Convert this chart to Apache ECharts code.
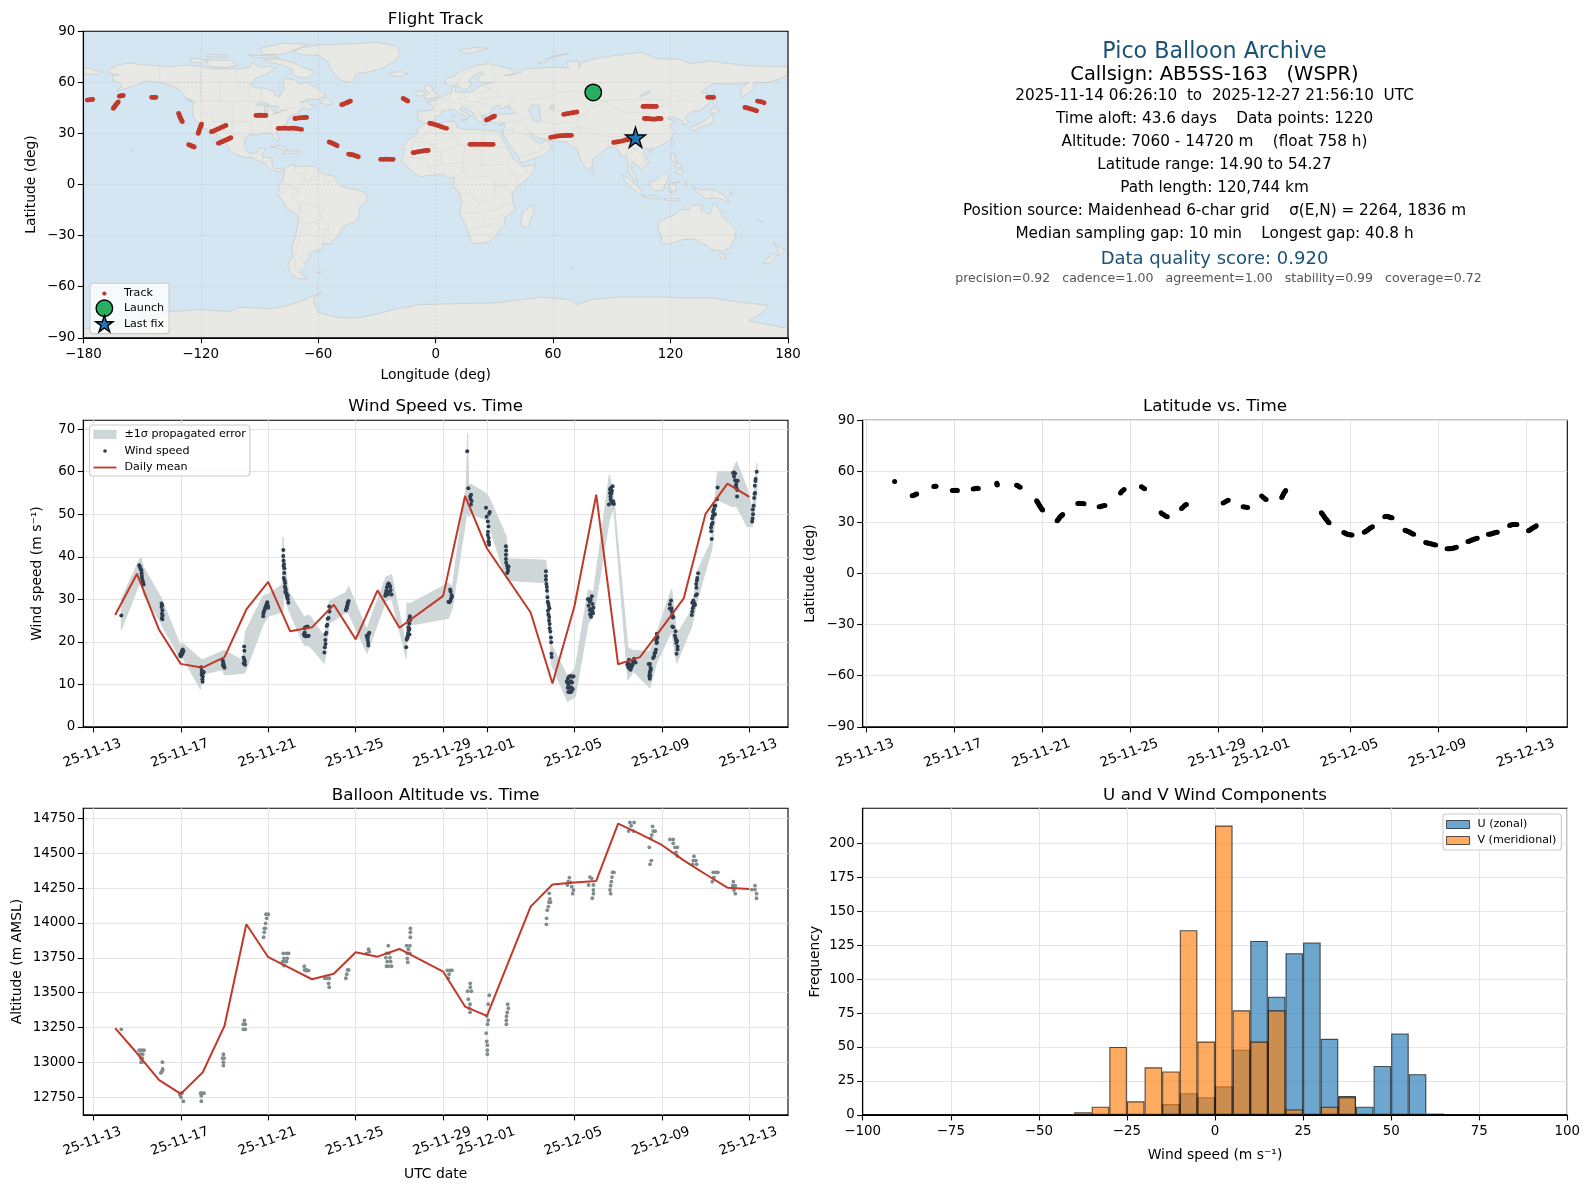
<!DOCTYPE html>
<html><head><meta charset="utf-8">
<style>html,body{margin:0;padding:0;background:#fff}#c{width:1590px;height:1189px}</style>
<script src="https://cdn.jsdelivr.net/npm/echarts@6/dist/echarts.min.js"></script>
</head><body><div id="c"></div>
<script>
// ---------- tick labels ----------
const dayTicks = [0,4,8,12,16,18,22,26,30];
const dayLabels = ['25-11-13','25-11-17','25-11-21','25-11-25','25-11-29','25-12-01','25-12-05','25-12-09','25-12-13'];
const lonTicks = [-180,-120,-60,0,60,120,180];
const latTicks = [-90,-60,-30,0,30,60,90];
const windTicks = [0,10,20,30,40,50,60,70];
const altTicks = [12750,13000,13250,13500,13750,14000,14250,14500,14750];
const freqTicks = [0,25,50,75,100,125,150,175,200];
const histTicks = [-100,-75,-50,-25,0,25,50,75,100];

// ---------- flight track (lon, lat) ----------
const track = [
[-178,49.6],[-177.2,49.7],[-176.4,49.9],[-175.6,50],[-175.2,50],
[-164.7,44.7],[-164.4,45.2],[-164.1,45.6],[-163.8,46.1],[-163.5,46.6],[-163.2,47.1],[-162.8,47.6],[-162.4,48.1],[-162.1,48.6],
[-161.6,51.9],[-161.1,52],[-160.6,52.1],[-160.1,52.2],[-159.6,52.3],[-145.1,51.2],[-144.5,51.2],[-144,51.2],[-143.4,51.2],[-142.9,51.2],
[-131.3,41.8],[-131.1,41.2],[-130.9,40.6],[-130.7,40],[-130.5,39.4],[-130.2,38.7],[-130,38.1],[-129.7,37.5],[-129.4,36.9],
[-126.2,23.4],[-125.7,23.2],[-125.2,23],[-124.7,22.7],[-124.2,22.5],[-123.7,22.2],[-123.3,22],
[-121.3,30],[-121.1,30.7],[-120.9,31.4],[-120.7,32.1],[-120.5,32.8],[-120.2,33.5],[-120,34.2],[-119.8,34.9],[-119.6,35.5],
[-114.5,31],[-113.7,31.3],[-113,31.7],[-112.2,32.1],[-111.5,32.5],[-110.7,32.9],[-110,33.3],[-109.2,33.7],[-108.5,34],[-107.8,34.4],[-107.1,34.7],
[-111,24.2],[-110.3,24.5],[-109.7,24.9],[-109,25.2],[-108.4,25.5],[-107.7,25.9],[-107,26.2],[-106.3,26.6],[-105.7,26.9],[-105.1,27.2],[-104.6,27.5],
[-91.8,40.6],[-91.1,40.6],[-90.5,40.6],[-89.9,40.7],[-89.3,40.7],[-88.6,40.6],[-88,40.6],[-87.3,40.6],[-86.7,40.6],
[-80.4,33],[-79.6,33],[-78.8,33],[-78,33.1],[-77.2,33.1],[-76.4,33],[-75.6,33],[-74.8,33],[-74,33],[-73.2,33.1],[-72.4,33.1],[-71.5,32.9],[-70.6,32.8],[-69.6,32.6],[-68.5,32.4],
[-71.9,38.8],[-71.2,38.9],[-70.5,39],[-69.7,39.1],[-69,39.2],[-68.2,39.3],[-67.4,39.3],[-66.6,39.4],[-65.9,39.4],
[-48,46.9],[-47.4,47.1],[-46.8,47.4],[-46.2,47.7],[-45.6,48],[-45,48.2],[-44.5,48.5],[-44,48.8],[-43.5,49],
[-54.4,25],[-53.9,24.8],[-53.3,24.5],[-52.8,24.3],[-52.3,24],[-51.8,23.7],[-51.3,23.4],[-50.8,23.1],[-50.3,22.8],
[-44.5,17.9],[-43.8,17.7],[-43.2,17.6],[-42.5,17.5],[-41.9,17.3],[-41.3,17],[-40.7,16.8],[-40.1,16.6],[-39.5,16.3],
[-28.1,14.8],[-27.3,14.8],[-26.5,14.8],[-25.7,14.9],[-25,14.9],[-24.2,14.8],[-23.3,14.8],[-22.5,14.8],[-21.7,14.8],
[-11.5,18.7],[-10.8,18.8],[-10,19],[-9.2,19.2],[-8.5,19.3],[-7.7,19.5],[-7,19.6],[-6.2,19.8],[-5.4,19.9],[-4.6,20],[-3.8,20],
[-16.6,50.6],[-16,50.2],[-15.4,49.8],[-14.8,49.4],[-14.2,49],
[-3,36],[-2.2,35.8],[-1.4,35.6],[-0.6,35.3],[0.2,35],[1,34.7],[1.8,34.4],[2.6,34],[3.4,33.7],[4.5,33.3],[5.6,33],
[17.5,23.6],[18.3,23.6],[19,23.6],[19.8,23.7],[20.5,23.6],[21.3,23.6],[22,23.6],[22.8,23.6],[23.5,23.7],[24.3,23.6],[25,23.6],[25.8,23.6],[26.5,23.6],[27.3,23.6],[28,23.6],[28.7,23.6],[29.4,23.6],
[25.9,37.9],[26.5,38.1],[27,38.4],[27.6,38.8],[28.1,39.1],[28.7,39.4],[29.2,39.7],[29.7,40],[30.1,40.2],
[58.7,27.7],[59.4,27.9],[60.2,28],[61,28.2],[61.8,28.4],[62.6,28.5],[63.4,28.6],[64.2,28.7],[65,28.7],[65.8,28.7],[66.5,28.8],[67.3,28.8],[68,28.8],[68.7,28.9],[69.4,28.9],
[65.4,41.2],[66.1,41.4],[66.8,41.5],[67.5,41.7],[68.2,41.8],[68.9,42],[69.6,42.1],[70.3,42.3],[71,42.4],[71.6,42.5],[72.2,42.6],
[90.9,24.7],[91.7,24.9],[92.5,25],[93.2,25.1],[94,25.3],[95,25.5],[96,25.8],[96.8,26.1],[97.5,26.3],[98.3,26.4],[99,26.5],
[105.9,45.9],[106.6,45.9],[107.3,45.9],[108,46],[108.7,46],[109.4,45.9],[110,45.9],[110.7,45.9],[111.4,45.9],[112.1,45.9],[112.8,45.9],
[106.6,38.8],[107.3,38.8],[108,38.8],[108.8,38.7],[109.5,38.6],[110.3,38.5],[111,38.4],[111.8,38.4],[112.5,38.5],[113.2,38.7],[113.9,38.8],[114.6,38.8],[115.2,38.7],
[139,51.2],[139.8,51.2],[140.5,51.2],[141.3,51.2],[142,51.2],
[158,45.3],[158.8,45.1],[159.5,44.9],[160.2,44.6],[161,44.4],[161.8,44.1],[162.5,43.8],[163.3,43.5],[164,43.3],
[164.4,49],[165.2,48.9],[166,48.7],[166.9,48.4],[167.8,48]];
const launchFix = [[80.5,54.1]];
const lastFix = [[102.1,27.7]];

// ---------- base map outlines (lon, lat) ----------
const land = [
[[-168,65.5],[-166,68.3],[-162,70.3],[-156.5,71.3],[-150,70.5],[-141,69.7],[-135,69.3],[-128,70.2],[-120,69.5],[-115,68],[-108,68],[-100,68],[-95,69],[-94,72],[-90,69],[-85,69.5],[-81.5,68.5],[-85,66],[-87,64.5],[-92,62.5],[-94.5,59],[-92.5,57],[-88,56.5],[-82.5,55],[-82,52.5],[-79.5,51.5],[-79,54.5],[-77,56],[-78,59],[-77.5,62.5],[-72,61.5],[-69.5,59],[-65.5,60],[-62,57.5],[-59,55],[-56,52.5],[-60,50],[-66,50],[-69,48],[-65,49],[-64.5,47],[-61,46],[-65,44],[-67,45],[-70,43.5],[-70,41.7],[-74,40.7],[-75.5,38],[-76,35.5],[-78,34],[-81,32],[-81.3,30],[-80,27],[-80.3,25.2],[-81.8,26],[-82.7,28],[-84,30],[-86,30.4],[-89,30.3],[-90,29.2],[-94,29.5],[-97,28],[-97.5,25],[-97.8,22.3],[-96,19],[-94.5,18.2],[-91.5,18.5],[-90.5,21],[-87,21.5],[-88,18.5],[-88.5,16],[-86,15.9],[-83.5,15.2],[-83.7,11],[-82,9],[-79.5,9.5],[-77.3,8.7],[-78,7.5],[-80.5,7.5],[-83,8.3],[-85.5,10],[-87.5,13],[-91,14],[-94,16],[-97,15.8],[-101,17.2],[-105,19.5],[-105.5,22],[-108,25],[-110,27.5],[-112.5,30],[-113,31.5],[-114.7,31.5],[-113,28.5],[-110.5,24.5],[-109.5,23],[-112,25],[-114.5,28],[-116,30.5],[-117.2,32.6],[-120.5,34.5],[-122.5,37.5],[-124.2,40.5],[-124,46],[-123,48.5],[-127.5,51],[-130,54.5],[-133,57],[-137,58.5],[-140,59.8],[-146,60.8],[-150,60],[-152,58.8],[-158,56.5],[-163,54.8],[-160,58],[-162,60],[-165,61.5],[-165,64],[-161,64.5]],
[[-73,78.2],[-68,80.5],[-60,82],[-45,82.5],[-30,83.5],[-20,81.5],[-18,77],[-21,72.5],[-27,68.5],[-33,66.5],[-40,65],[-43,60],[-48,61],[-52,65],[-54,69],[-55,72],[-60,76],[-68,76]],
[[-80,73.5],[-72,71.5],[-68,69],[-62,66.5],[-65,62.5],[-70,63],[-74,65],[-73,67.5],[-78,70],[-85,72],[-88,73.5]],
[[-117,73],[-105,73],[-101,70],[-108,68.7],[-116,69.5]],
[[-90,80],[-78,83],[-65,82.5],[-72,79],[-78,76.5],[-88,76.5]],
[[-125,74],[-116,73.5],[-120,71.5],[-125,72]],
[[-96,76],[-82,75.5],[-80,74.5],[-92,74.5]],
[[-117,76.3],[-106,76],[-106,74.8],[-117,75]],
[[-59,47.8],[-56,51.5],[-53,48],[-53,46.7]],
[[-128,50.7],[-123.5,48.5],[-125,48.6]],
[[-85,22],[-80,23],[-75,20.5],[-77.5,20],[-82,22]],
[[-74.5,19.8],[-69,19.5],[-68.5,18.5],[-74,18]],
[[-78.3,18.4],[-76.3,18.1],[-77.5,17.8]],
[[-156,20.2],[-155,19.7],[-155.8,19]],
[[-77.3,8.7],[-75.5,10.7],[-72,12],[-71.5,10.5],[-68,11],[-62,10.7],[-60,8.5],[-57,6],[-52,5],[-50,1],[-48,-1],[-44,-2.5],[-40,-3],[-35.5,-5.5],[-35,-9],[-39,-13.5],[-39,-18],[-41,-22],[-45,-23.5],[-48.5,-26],[-48.7,-28.5],[-52,-32.5],[-54,-34.8],[-58,-34.5],[-57,-38],[-62,-39],[-65,-41],[-64,-42.8],[-67.5,-46],[-66,-48],[-69,-51],[-68.5,-52.5],[-65.5,-55],[-70,-55.5],[-74,-52.5],[-75.5,-47],[-73,-42],[-73.5,-37],[-71.5,-30],[-70,-20],[-71,-17.8],[-76,-14],[-79,-8],[-81.3,-5],[-80,-2.5],[-80,0.5],[-78,2.5],[-77.5,7]],
[[-61,-51.4],[-58,-51.3],[-59,-52.2]],
[[-6,35.8],[-2,35],[5,36.8],[10,37.2],[11,33.5],[15,32.3],[20,32.5],[25,31.7],[32,31.2],[34.3,31.3],[33,28.5],[35.5,24],[37.3,20.5],[39.5,15],[43.2,12],[44.5,10.5],[51,12],[50.5,9],[47.5,4],[41.5,-1.7],[39,-6],[39.5,-10],[40.7,-15],[35,-19.8],[35.5,-24],[32.8,-26],[31,-30],[27,-33.8],[20,-34.8],[18.3,-33.8],[17,-29],[14.7,-22.5],[12,-17],[13.7,-10],[12,-5],[9,-0.7],[9.7,3.5],[6,4.3],[4,6.3],[-1,5.5],[-4.5,5.2],[-7.5,4.5],[-11,6.8],[-13.5,9.5],[-16.8,12.5],[-17.5,14.7],[-16,19],[-17,21],[-14.8,25.5],[-12,28],[-9.7,30],[-9,33]],
[[49.3,-12],[50.3,-15.5],[47.5,-24.5],[45,-25.5],[43.5,-22],[44.5,-16]],
[[-9,37],[-9.3,43],[-2,43.5],[-1,46],[-4.7,48.5],[-1.5,49],[2,51],[4.5,52.5],[8,54],[8.5,57],[10.5,57.5],[10,54.5],[14,54],[19,54.5],[21,56.5],[24,58.5],[29.5,60],[23,60],[21.5,61],[22,63],[25,65.3],[22,65.5],[18,62.5],[17,60.5],[18.5,59.5],[16.5,56.5],[14,55.5],[12.5,56.5],[11,59],[8,58],[5,59],[5,62],[10,64],[14,67.5],[20,70],[27,71],[33,69.5],[41,67],[40,65],[35,64],[37,64],[44,66],[45,68],[54,68.5],[60,69],[68,68.5],[67,72],[73,73],[73,68],[75,72],[82,74],[90,75.5],[100,77],[105,77.7],[113,74],[125,73.5],[130,71],[140,72.5],[150,71],[160,69.7],[170,69.5],[180,69],[180,65],[177,62.5],[170,60],[163,59.8],[162,56],[156.5,51],[155.8,56],[160,60],[155,59],[142,59.3],[135.5,54.5],[141,52.5],[140,48],[135,43.5],[130.5,42.5],[127.5,39.7],[129.3,36.5],[126.5,34.5],[126,37.5],[122,39.5],[118,39],[122.5,37],[119.5,35],[122,31],[120,26],[114.5,22.5],[109.5,20.5],[108,21.5],[106,19],[109,13],[105,8.8],[103,11.5],[100.5,13.5],[99.5,10],[103.5,1.5],[101,3],[98.5,8],[98,13],[97,17],[94.5,16],[94,19],[91,22.5],[87,21],[82,16.5],[80,15],[80,11],[77.5,8],[75,12],[73,18],[72.5,21],[69,22.5],[67,25],[61.5,25.2],[57,26],[55.5,26.8],[52,27.5],[49,30],[48,29.5],[50,26],[51.5,25],[54,24],[56.3,26],[58.5,23.5],[59.5,22],[55,17],[52,16],[45,13],[43.2,13],[42.5,16.5],[39,21],[36,26.5],[34.8,28.5],[34.3,31.3],[35.5,34],[35.5,36.5],[32,36],[28,36.7],[26.5,39],[26,40.5],[23.5,40.5],[24,38],[23,36.5],[21.5,37.5],[19.5,40.5],[19,42.5],[14.5,45],[12.5,45],[12.5,44],[16,41.8],[18.3,40],[16.5,39.8],[16,38],[15.5,40],[12,42],[10,44],[7,43.7],[3.3,43.2],[3,41.5],[0,39.5],[-0.5,38],[-2,36.8],[-5.5,36],[-7,37.2]],
[[-180,69],[-175,67.5],[-170,66],[-173,64.5],[-180,65]],
[[-5.5,50],[1.3,51.2],[1.7,52.7],[-1.5,55],[-2,57.5],[-5,58.6],[-6,56],[-3,54],[-5,52]],
[[-10,52],[-6,52.2],[-5.7,54.7],[-8.5,55.2],[-10,54]],
[[-24,65.5],[-18,66.5],[-14,65],[-18.5,63.4],[-22.5,64]],
[[12,79],[20,80.5],[27,80],[18,77],[14,77.5]],
[[52,71],[57,74],[68,77],[60,75.5],[55,71]],
[[12.5,38],[15.5,38.2],[15,36.7]],[[8.2,41],[9.7,41],[9.5,39],[8.4,39]],[[23.5,35.5],[26.2,35.2],[24,35]],[[32.3,35],[34.5,35.6],[33.5,34.6]],
[[80,9.7],[82,7.5],[80.7,6],[79.8,7.5]],
[[130.8,34],[135,35.7],[137,37],[140,40],[141.5,41.3],[142,39],[140.8,35.5],[137,34.6],[135,33.5],[131,31.2],[130,33]],
[[140,42],[141.7,45.5],[145.3,43.7],[143,42],[140.5,41.6]],
[[142,54],[143.5,49.5],[143,46],[141.8,47.5]],
[[121,25],[122,25],[120.8,22],[120,23]],[[108.7,19.5],[110.8,20],[110,18.4]],
[[120.5,18.5],[122.2,18.3],[122,15],[124,13],[121,13.7],[120,16]],[[122,7],[125.5,9.7],[126.4,7],[125,5.8]],[[122,11.7],[125,12.5],[125.5,10.3],[123,9.5]],
[[109,1.5],[113,3],[117,7],[119,5],[117.8,1],[116,-3.8],[111,-3.2],[109,0]],
[[95.2,5.6],[98,4.2],[104,-2],[106,-5.8],[104,-5.5],[100,-2],[97,2]],
[[105.5,-6.5],[110,-6.5],[114.5,-7.7],[114.5,-8.7],[108,-7.8]],
[[119.5,0.8],[125,1.5],[121,0.5],[123,-1],[122.5,-4.7],[120.5,-3],[120.4,-5.5],[119.5,-3.5]],
[[116,-8.3],[120,-8.3],[125,-8.3],[125,-9.5],[119,-9.6]],[[127.5,1.8],[128.5,1],[128,-0.8]],
[[131,-0.8],[135,-3.3],[141,-2.6],[147,-6],[150.5,-10.5],[144,-7.8],[138,-8.2],[133,-4]],
[[150,-5.5],[152,-4.2],[151,-6]],
[[114,-22],[116,-20.5],[122,-18],[125,-14.5],[129.5,-15],[131,-12],[136.5,-12],[135.5,-15],[140,-17.5],[142,-11],[145.5,-15],[146.5,-19],[150.8,-23],[153.5,-27],[153,-31],[150,-37.5],[146,-39],[141,-38.3],[138,-35.5],[136,-34.8],[133,-32],[126,-32.3],[123,-33.8],[118,-35],[115,-34.3],[115.5,-31],[113.5,-26]],
[[144.7,-40.8],[148.2,-40.9],[147.8,-43.2],[146,-43.5]],
[[172.8,-34.5],[175.5,-37],[178.4,-37.8],[176,-41.3],[174.8,-41.5],[174.7,-38]],
[[172.7,-40.6],[174.2,-41.7],[170.7,-46],[167,-46.3],[168.5,-44]],
[[165,-21],[167,-22.3],[164.5,-20.3]],[[68.7,-49],[70.5,-49.3],[69.5,-49.8]],
[[-180,-90],[-180,-84.5],[-145,-84.5],[-147,-78],[-135,-74.5],[-120,-73.5],[-105,-74.5],[-100,-72],[-85,-73],[-75,-71],[-68,-68],[-58,-63.3],[-62,-66],[-62,-70],[-60,-75],[-50,-78],[-40,-78.5],[-30,-76],[-20,-73],[-8,-70.5],[10,-70],[30,-69.5],[45,-67.5],[55,-66],[70,-68],[72,-70.5],[80,-67.5],[95,-66],[110,-66],[125,-66.5],[140,-66.5],[155,-69],[170,-71],[166,-76],[160,-80],[180,-84.5],[180,-90]]];
const inlandWater = [
[[28,41.2],[31,41.2],[36,41.5],[41.5,41.8],[40,43.5],[37.5,45],[38,46.5],[35,45.5],[35,44.7],[33,44.5],[33,46],[31,46.5],[28.5,44]],
[[49,46.5],[53,46.5],[53,42],[54,37],[50,37.3],[49,40.5],[47.5,43]],
[[58.5,46.5],[61,46.5],[60,44],[58.5,44]],
[[-92,46.7],[-88,48.5],[-84.7,47],[-85,46.5]],
[[-87.5,45.8],[-85.5,45.8],[-86.2,42],[-87.5,41.8]],
[[-84.5,46],[-80,45.8],[-81.7,43.3],[-83.5,43.5]],
[[-83.3,41.8],[-79,42.8],[-79,42.5],[-82,41.5]],[[-79.5,43.4],[-76.3,44],[-76.3,43.4]],
[[104,52],[110,55.7],[109.5,54],[105,51.5]]];
const borders = [
[[-123,49],[-95,49],[-89,48],[-83,46],[-82.5,42.5],[-76,44],[-75,45],[-71,45],[-69,47.3],[-67,45]],
[[-141,69.7],[-141,60.2],[-135,59],[-130,55]],
[[-117,32.5],[-114.7,32.5],[-111,31.3],[-106.5,31.8],[-103,29],[-101,29.8],[-97.5,26]],
[[-92,14.5],[-91,17.5],[-89,18]],[[-89,14],[-87,13]],[[-83.5,15],[-87,13]],
[[-72,12],[-72.5,7],[-67,6],[-67,2],[-70,-1],[-70,-4],[-74,-7],[-70,-11],[-69,-16]],
[[-79,1.5],[-75,0],[-70,-4]],[[-80,-3.5],[-78,-5],[-75,-1]],
[[-60,8.5],[-60,5],[-64,4],[-64,2],[-67,2]],[[-57,6],[-57,2],[-52,2]],
[[-70,-18],[-69,-11],[-60,-13],[-58,-20],[-62,-22],[-67,-23],[-70,-18]],
[[-58,-20],[-55,-24],[-54,-26],[-58,-27],[-62,-22]],[[-58,-34],[-57,-30],[-54,-26]],
[[-70,-20],[-68,-24],[-70,-33],[-72,-43],[-72,-50],[-69,-52]],[[-53,-33],[-57,-30]],
[[-9,42],[-7,42],[-7,37.2]],[[-2,43.5],[3,42.5]],[[2,51],[6,49.5],[8,48],[7,43.7]],[[8,54],[7,51],[6,49.5]],
[[14,54],[15,51],[12,50],[13,47.5],[8,47.5]],[[19,54.5],[24,54],[24,50],[22,48.5],[15,49],[15,51]],[[13,46.5],[19,46],[22,48.5]],[[24,58.5],[28,56],[24,54]],
[[22,48.5],[28,45.5],[29.5,45]],[[19,42.5],[23,41],[26,41.5]],[[26,41.5],[28,42]],[[20,46],[22,44],[23,41]],
[[29.5,60],[31,63],[29,66],[29,69.5]],[[11.5,59],[12,61],[14,65],[20,69]],[[24,66],[21,69]],
[[24,50],[32,52],[40,50],[38,47.5]],[[28,56],[32,52]],
[[47,50],[58,51],[62,54],[71,55],[77,53],[80,50.5],[87,49],[98,50],[107,50],[117,50],[120,53],[127,50],[135,48],[131,43]],
[[87,49],[80,45],[74,40],[70,41],[66,42],[59,45],[54,42]],[[74,40],[71,36],[74,34],[79,32],[81,30],[88,28],[97,28],[98,24],[101,21],[106,23],[108,21.5]],
[[87,49],[91,45],[97,42.5],[105,42],[112,45],[119,47],[117,50]],
[[53,37],[61,36],[66,37],[71,36]],[[61,36],[61,31],[62,25.2]],[[44,39.5],[48,38.5],[49,38]],[[61,31],[66,29.5],[70,33],[74,34]],[[70,24],[71,28],[74,31],[74,34]],
[[36,36.7],[42,37],[44,37.5],[44,39.5],[41.5,41.5]],[[44,37.5],[46,34],[48,30]],[[39,32],[42,37]],[[36,32],[39,32],[46,29],[48,29.5]],[[52,19],[55,22],[52,24]],[[43,16.5],[52,19]],
[[88,26],[89,22]],[[92,21],[93,24],[97,28]],[[98,24],[98,18],[99,13]],[[101,21],[105,18],[107,15],[105,11]],
[[-9,27.5],[-13,27.7],[-17,21]],[[-9,27.5],[-2,32],[-2,35]],[[9,30],[8,33],[8.5,37]],[[-9,27.5],[-5,25],[3,19],[12,23.5],[9,30]],
[[12,23.5],[15,23],[24,19.5],[24,22],[25,31.7]],[[25,22],[37,22]],[[-5,25],[-12,25],[-12,21],[-17,21]],[[-16,16],[-5,15.5],[-4,10],[3,12],[3,19]],
[[3,12],[14,13],[15,23]],[[14,13],[14,7],[9,4.5]],[[24,19.5],[23,11],[27,5],[30,3.5]],[[23,11],[36,12],[37,15]],[[36,12],[41.5,4],[47,8],[44,11]],[[41.5,4],[41,-1.5]],
[[14,7],[18,3.5],[27,5]],[[12,-5],[18,-5],[22,-11],[30,-8],[30,3.5]],[[30,-1],[34,-1],[39,-5]],[[12,-17],[24,-17],[30,-15],[35,-12],[39,-10.5]],[[17,-29],[20,-25],[25,-25],[31,-22.5],[33,-26]],[[25,-18],[25,-25]],[[30,-15],[33,-13],[35,-19]],
[[141,-2.6],[141,-9]],[[116,4],[113,1.5],[110,1]],
[[-95,49],[-95,60],[-102,60],[-102,68]],[[-120,49],[-120,68]],[[-110,49],[-110,60]],[[-141,60.2],[-120,60]],[[-80,52],[-80,62]],[[-89,48],[-89,56.5]],
[[-120,42],[-114,42],[-114,37],[-109,37],[-94,37]],[[-104,49],[-104,31]],[[-94,37],[-94,30]],[[-110,37],[-110,31.5]],[[-85,35],[-85,30.5]]];

// ---------- wind speed vs. time (day offset from 25-11-13, m/s) ----------
const windPoints = [
[1.28,26.2],[2.10,38.0],[2.13,37.6],[2.16,37.2],[2.2,36.8],[2.21,36.1],[2.22,35.5],[2.23,34.9],[2.26,34.3],[2.28,33.9],[2.30,33.5],
[3.12,29.0],[3.15,28.6],[3.12,28.2],[3.16,27.4],[3.14,26.6],[3.17,26.2],[3.13,25.6],[3.16,25.3],
[3.97,17.0],[4.0,16.6],[4.03,17.4],[4.06,17.9],[4.09,18.2],[4.12,17.8],[4.02,16.8],[4.08,17.2],
[4.93,14.0],[4.96,13.2],[4.98,12.8],[5.02,12.6],[5.05,12.9],[4.97,12.1],[5.01,11.8],[4.99,11.2],[5.0,10.6],[4.95,12.4],
[5.92,15.6],[5.94,15.1],[5.96,14.7],[5.98,14.2],[6.0,13.9],[5.93,14.4],
[6.9,18.9],[6.91,17.9],[6.87,16.3],[6.9,15.9],[6.93,15.4],[6.88,14.9],[6.94,14.6],[6.91,15.1],
[7.77,26.0],[7.78,26.7],[7.8,27.1],[7.84,27.6],[7.87,28.1],[7.9,28.5],[7.93,28.9],[7.96,29.3],[7.98,28.6],[8.0,28.0],
[8.69,41.6],[8.69,40.2],[8.7,39.1],[8.72,38.3],[8.7,37.8],[8.74,37.3],[8.73,36.2],[8.71,35.0],[8.75,34.4],[8.77,33.8],[8.76,33.0],[8.79,32.6],[8.8,32.1],[8.78,31.7],[8.83,31.4],[8.85,30.8],[8.87,30.4],[8.89,30.9],[8.9,30.0],[8.92,29.2],
[9.63,21.8],[9.66,21.4],[9.7,21.3],[9.76,21.4],[9.8,21.3],[9.85,21.4],[9.66,23.2],[9.7,23.4],[9.75,23.4],[9.8,23.6],[9.67,22.2],
[10.57,17.5],[10.59,18.7],[10.62,19.5],[10.61,20.4],[10.62,21.8],[10.66,22.1],[10.67,23.7],[10.7,24.0],[10.72,25.4],[10.76,25.6],[10.8,27.1],[10.79,28.3],
[11.55,27.4],[11.58,27.8],[11.6,28.2],[11.62,28.6],[11.65,29.1],[11.68,29.6],[11.59,27.9],[11.63,29.2],
[12.5,21.4],[12.53,20.9],[12.55,20.4],[12.57,19.8],[12.58,19.1],[12.6,21.9],[12.62,22.1],[12.56,21.2],
[13.35,30.8],[13.38,31.4],[13.4,32],[13.43,32.8],[13.47,33.4],[13.5,33.7],[13.54,33.5],[13.58,33.0],[13.6,32.2],[13.64,31.1],[13.55,31.8],[13.47,31.1],
[14.31,18.7],[14.33,20.5],[14.36,21.0],[14.38,21.4],[14.4,22.0],[14.43,22.7],[14.42,23.4],[14.45,24.3],[14.43,25.0],[14.47,25.5],[14.48,26.0],[14.5,25.2],[14.37,20.9],[14.46,23.0],[14.46,21.7],
[16.24,29.4],[16.28,29.3],[16.33,29.6],[16.36,30.2],[16.38,31.0],[16.41,30.6],[16.34,31.8],[16.32,32.3],
[17.1,64.8],[17.15,56.1],[17.23,54.2],[17.25,53.6],[17.28,54.6],[17.3,53.1],[17.27,52.3],
[17.96,51.5],[18.13,50.5],[18.1,50.1],[17.99,49.4],[18.04,48.3],[18.07,47.1],[18.05,45.9],[18.04,45.1],[18.08,44.4],[18.07,43.6],[18.1,42.8],[18.09,43.4],
[18.87,42.5],[18.88,41.5],[18.87,40.5],[18.87,39.5],[18.88,38.6],[18.92,37.9],[18.95,37.3],[18.97,36.7],[18.93,36.2],[18.99,37.7],
[20.7,36.6],[20.7,35.5],[20.7,34.6],[20.72,33.6],[20.74,32.9],[20.75,32.0],[20.77,30.5],[20.78,29.4],[20.81,29],[20.83,28.4],[20.86,27.8],[20.79,27.3],[20.81,26.4],[20.85,25.8],[20.84,25],[20.87,24.2],[20.87,23.2],[20.9,22.4],[20.93,21.0],[20.94,19.9],[20.95,17.2],[20.96,16.4],
[21.65,10.6],[21.7,11.3],[21.75,11.8],[21.8,11.9],[21.85,11.9],[21.92,11.8],[21.96,11.9],[21.72,10],[21.78,10.4],[21.84,10.7],[21.9,10.4],[21.7,9.2],[21.78,9.1],[21.85,9.3],[21.72,8.2],[21.8,8.1],[21.87,8.3],[21.93,8.9],
[22.62,30],[22.67,30],[22.7,29.4],[22.75,29.9],[22.8,30.7],[22.83,28.9],[22.65,28.5],[22.7,27.5],[22.76,27.7],[22.82,27.1],[22.85,26.7],[22.72,26.5],[22.76,25.9],[22.87,28.0],
[23.58,52.3],[23.66,53.5],[23.69,53],[23.75,52.6],[23.78,53],[23.81,52.4],[23.63,55],[23.69,54.9],[23.65,54.2],[23.72,55.5],[23.75,56.6],[23.67,56.2],[23.63,55.9],
[24.42,14.6],[24.47,14],[24.52,13.7],[24.57,13.4],[24.6,13.9],[24.65,14.4],[24.7,15],[24.75,15.3],[24.8,15.1],[24.73,16],[24.66,15.5],[24.55,14.6],[24.45,15],[24.5,15.8],
[25.4,14.8],[25.46,14.8],[25.48,13.9],[25.46,13],[25.44,12.5],[25.47,12],[25.45,11.3],[25.5,13.5],[25.43,11.9],
[25.6,16.2],[25.65,16.6],[25.67,17.3],[25.7,17.5],[25.73,18.1],[25.76,19.7],[25.74,20.4],[25.79,20.9],[25.78,19.9],[25.8,21.1],[25.77,21.9],
[26.37,28.8],[26.42,29.7],[26.36,27.8],[26.44,27.9],[26.47,26.3],[26.5,25.7],[26.45,27.2],[26.53,25.8],[26.48,23.6],[26.52,23.4],
[26.6,21.5],[26.63,20.9],[26.65,20.4],[26.66,19.7],[26.7,20.2],[26.72,18.9],[26.72,18.2],[26.67,17.2],[26.63,22.5],
[27.37,26.3],[27.39,27.1],[27.41,27.9],[27.45,28.4],[27.39,29.2],[27.44,29.7],[27.48,29.1],[27.52,28.7],[27.55,30.9],[27.6,31.2],[27.58,32.7],[27.57,33.6],[27.6,34.4],[27.62,35],[27.66,36.1],
[28.28,44.2],[28.26,46],[28.25,46.9],[28.28,47.6],[28.32,48],[28.3,49],[28.33,49.6],[28.38,49.9],[28.43,50],[28.34,50.6],[28.38,51.2],[28.45,52],[28.4,52],[28.52,53.5],[28.55,56.3],
[29.26,59.7],[29.3,59.8],[29.35,59.6],[29.3,58.9],[29.35,58],[29.4,57.8],[29.47,57.9],[29.4,57],[29.36,56.4],[29.42,56.2],[29.45,55.7],[29.44,54.2],
[30.13,48.3],[30.15,49],[30.17,50],[30.16,51.1],[30.2,52],[30.22,53.8],[30.24,54.8],[30.26,55],[30.25,56.7],[30.28,57.8],[30.29,58.3],[30.34,60]];
const meanDays = [1,2,3,4,5,6,7,8,9,10,11,12,13,14,16,17,18,20,21,22,23,24,25,26,27,28,29,30];
const windMean = [26.3,36.0,22.9,14.8,13.9,16.4,27.6,34.1,22.5,23.4,28.7,20.6,32.1,23.3,30.8,54.3,42.0,26.9,10.2,28.3,54.6,14.7,16.4,23.2,30.2,50.1,57.2,54.1];
// ±1 sigma band: day, upper, lower
const bandDays = [1.28,2.1,2.18,2.3,3.11,3.17,3.98,4.12,4.9,5.02,5.9,6,6.86,6.95,7.76,8,8.64,8.68,8.72,8.93,9.64,9.88,10.57,10.6,10.79,11.55,11.68,12.52,12.62,13.38,13.64,14.31,14.34,14.5,16.24,16.42,17.06,17.12,17.16,17.3,17.99,18.14,18.87,18.99,20.7,20.96,21.69,22.04,22.63,22.88,23.6,23.8,24.45,24.7,25.45,25.76,26.45,26.68,27.37,27.66,28.28,28.54,29.2,29.42,29.9,30.14,30.35];
const bandUpper = [30,39.2,39.8,37.5,30.3,29.5,19.2,19.6,16,15.8,17.8,18,15.5,22.3,30.8,31.2,33.5,44.6,40,31.8,25.9,26.3,21.2,21.6,29.6,31.6,33,22.8,24.6,35.2,35.8,19,29.2,29,33.8,33,57,69,57,57,54.8,53.5,45,39.5,39.2,19.3,11.8,13.8,32.2,31.8,59.3,54,18.5,18,17.7,22,32.4,21.8,27.5,37,44,60,60,62.4,56,51,62];
const bandLower = [22.8,33.6,35.5,31,24.3,23.5,16.1,16,8.8,12.4,13.4,12.2,12.6,12.8,24,26,27,27.5,31.5,27.5,19.2,19,14.9,16.4,24.3,26.8,26.6,17.3,18.8,29.6,30.2,16.1,23.9,23.9,25.5,28,49.5,50,49.4,50,48.7,46.7,34.9,34.4,33.9,14.5,5.9,7.1,24.3,26,48.7,51.5,11,13,9.1,15,22.5,15,23.6,30.5,41.6,53.4,51.8,51.8,47.1,47.1,54.9];

// ---------- latitude vs. time ----------
const latPoints = [
[1.30,54.1],[2.10,45.7],[2.15,45.9],[2.2,46.2],[2.25,46.5],[2.3,46.7],[3.08,51.1],[3.13,51.3],[3.18,51.2],
[3.92,48.8],[3.98,48.7],[4.04,48.8],[4.1,48.9],[4.15,48.8],[4.87,49.7],[4.93,49.8],[4.99,50],[5.05,50.1],[5.1,49.9],
[5.94,53],[5.95,52.5],[5.96,52],[6.84,51.8],[6.9,51.5],[6.95,51],[7,50.7],
[7.75,42.7],[7.78,42.2],[7.8,41.7],[7.83,41.1],[7.85,40.6],[7.88,40],[7.9,39.5],[7.93,38.9],[7.96,38.3],[7.99,37.8],[8.02,37.3],
[8.68,31],[8.71,31.5],[8.74,31.9],[8.77,32.5],[8.8,33],[8.83,33.5],[8.87,33.9],[8.9,34.3],[8.93,34.7],
[9.62,41.2],[9.68,41.3],[9.75,41.1],[9.82,41.1],[9.9,41],[10.59,39.2],[10.65,39.3],[10.72,39.6],[10.79,39.8],[10.85,40],
[11.56,47.3],[11.6,48],[11.65,48.6],[11.72,49.4],[12.51,51],[12.58,50.4],[12.65,49.8],
[13.4,35.7],[13.46,35],[13.53,34.5],[13.6,33.8],[13.68,33.3],[14.33,38.2],[14.39,39],[14.45,39.6],[14.5,40.2],[14.55,40.6],
[16.22,41.4],[16.3,42],[16.38,42.6],[16.45,43],[17.13,39.2],[17.2,39.1],[17.27,38.9],[17.33,38.8],
[17.97,45.5],[18.05,44.6],[18.12,44],[18.17,43.5],[18.88,44.7],[18.91,45.4],[18.93,46],[18.96,46.7],[18.99,47.4],[19.03,48.1],[19.06,48.8],
[20.68,35.7],[20.72,35.1],[20.75,34.5],[20.79,33.8],[20.82,33.2],[20.86,32.5],[20.9,31.9],[20.94,31.3],[20.97,30.7],[21,30.2],[21.03,29.8],
[21.7,24.1],[21.74,23.8],[21.78,23.6],[21.83,23.3],[21.87,23.1],[21.92,22.9],[21.97,22.8],[22.02,22.7],[22.07,22.7],
[22.63,24.3],[22.68,24.7],[22.72,25],[22.77,25.5],[22.81,25.9],[22.86,26.3],[22.9,26.7],[22.95,27.1],[23,27.5],
[23.56,33.3],[23.6,33.5],[23.64,33.6],[23.68,33.5],[23.72,33.4],[23.76,33.2],[23.8,33],[23.85,32.8],[23.89,32.7],
[24.48,25.5],[24.53,25.2],[24.57,25],[24.62,24.7],[24.66,24.5],[24.71,24.1],[24.76,23.8],[24.81,23.4],[24.87,23.1],
[25.42,18.2],[25.47,18],[25.53,17.9],[25.58,17.7],[25.64,17.5],[25.7,17.3],[25.76,17.1],[25.81,16.9],[25.87,16.7],
[26.39,14.5],[26.45,14.5],[26.5,14.6],[26.55,14.6],[26.6,14.7],[26.65,14.9],[26.7,15],[26.75,15.2],[26.81,15.5],
[27.34,18.8],[27.39,19],[27.44,19.2],[27.49,19.6],[27.55,19.9],[27.6,20.1],[27.66,20.3],[27.71,20.6],[27.76,20.8],
[28.27,23.1],[28.32,23.1],[28.37,23.2],[28.42,23.4],[28.47,23.6],[28.52,23.8],[28.57,24],[28.62,24.2],[28.67,24.3],
[29.23,28.2],[29.28,28.5],[29.34,28.7],[29.39,28.8],[29.45,28.8],[29.5,28.8],[29.56,28.8],
[30.09,25.1],[30.13,25.5],[30.18,25.9],[30.22,26.3],[30.27,26.6],[30.31,27],[30.36,27.4],[30.4,27.7],[30.44,28]];

// ---------- balloon altitude vs. time ----------
const altPoints = [
[1.28,13237],[2.10,13087],[2.21,13087],[2.32,13087],[2.13,13058],[2.26,13058],[2.18,13030],[2.24,13030],[2.18,13001],[2.23,13001],
[3.16,13001],[3.17,12953],[3.14,12934],[3.09,12924],[3.17,12944],[4.01,12779],[4.05,12779],[4.01,12750],[4.12,12721],[3.96,12767],
[4.91,12779],[4.97,12779],[5.06,12779],[4.94,12760],[4.94,12721],[5.95,13058],[5.91,13030],[5.98,13030],[5.95,13001],[5.95,12977],
[6.91,13300],[6.86,13273],[6.95,13273],[6.86,13237],[6.95,13237],[7.79,13897],[7.82,13933],[7.87,13961],[7.82,13961],[7.88,13997],[7.93,14033],[7.90,14062],[8.00,14062],
[8.69,13782],[8.84,13782],[8.93,13782],[8.72,13746],[8.87,13746],[8.66,13723],[8.78,13723],[8.84,13723],[8.72,13694],
[9.65,13689],[9.66,13663],[9.76,13663],[9.85,13658],[9.73,13656],[10.59,13603],[10.70,13603],[10.79,13603],[10.76,13567],[10.79,13539],
[11.55,13603],[11.59,13632],[11.63,13663],[11.68,13663],[12.5,13780],[12.59,13811],[12.62,13794],
[13.49,13837],[13.41,13782],[13.52,13782],[13.38,13751],[13.57,13751],[13.44,13723],[13.6,13723],[13.49,13689],[13.64,13689],[13.41,13689],
[14.5,13961],[14.5,13933],[14.5,13897],[14.33,13837],[14.48,13837],[14.41,13811],[14.36,13782],[14.48,13782],[14.36,13746],[14.38,13718],
[16.19,13660],[16.31,13660],[16.40,13660],[16.27,13632],[16.23,13603],[17.24,13567],[17.24,13539],[17.12,13510],[17.29,13510],[17.15,13453],[17.23,13417],[17.20,13388],[17.23,13359],
[18.11,13481],[18.06,13417],[17.99,13333],[18.06,13302],[18.03,13273],[17.97,13209],[17.99,13151],[18.02,13123],[18.02,13087],[18.02,13058],
[18.95,13417],[18.98,13388],[18.93,13359],[18.90,13331],[18.89,13302],[18.89,13273],
[20.85,14212],[20.88,14172],[20.84,14148],[20.91,14148],[20.81,14117],[20.76,14091],[20.73,14033],[20.72,13990],
[21.77,14325],[21.72,14296],[21.83,14291],[21.68,14272],[21.88,14260],[21.96,14236],[21.92,14210],
[22.71,14329],[22.79,14320],[22.65,14272],[22.87,14272],[22.87,14236],[22.87,14210],[22.82,14177],
[23.75,14363],[23.81,14363],[23.72,14329],[23.69,14296],[23.66,14267],[23.63,14236],[23.66,14210],
[24.54,14721],[24.73,14721],[24.60,14697],[24.48,14659],[24.70,14659],[25.43,14542],[25.52,14447],[25.46,14420],[25.49,14607],[25.58,14693],[25.61,14659],[25.70,14659],[25.54,14631],
[26.37,14599],[26.52,14599],[26.52,14571],[26.6,14542],[26.71,14542],[26.65,14506],[26.71,14480],
[27.47,14478],[27.44,14447],[27.56,14447],[27.41,14420],[27.59,14420],[28.35,14363],[28.47,14363],[28.56,14363],[28.38,14327],[28.31,14296],
[29.27,14296],[29.24,14267],[29.36,14267],[29.30,14236],[29.36,14210],[30.12,14239],[30.26,14267],[30.26,14239],[30.33,14210],[30.33,14177]];
const altMean = [13245,13065,12874,12774,12927,13261,13990,13754,13675,13596,13636,13789,13758,13813,13651,13400,13333,14117,14275,14289,14301,14712,14638,14559,14449,14349,14253,14243];

// ---------- wind component histogram ----------
const binCenters = [-97.5,-92.5,-87.5,-82.5,-77.5,-72.5,-67.5,-62.5,-57.5,-52.5,-47.5,-42.5,-37.5,-32.5,-27.5,-22.5,-17.5,-12.5,-7.5,-2.5,2.5,7.5,12.5,17.5,22.5,27.5,32.5,37.5,42.5,47.5,52.5,57.5,62.5,67.5,72.5,77.5,82.5,87.5,92.5,97.5];
const uCounts = [0,0,0,0,0,0,0,0,0,0,0,0,0,0,0,0,0,8,16,13,21,48,128,87,119,127,56,14,6,36,60,30,1,0,0,0,0,0,0,0];
const vCounts = [0,0,0,0,0,0,0,0,0,0,0,0,2,6,50,10,35,32,136,54,213,77,54,77,4,0,6,13,0,0,0,0,0,0,0,0,0,0,0,0];

// ---------- header text ----------
const infoLines = [
 ['Pico Balloon Archive',55,22.2,'#1a5276',1214.5],
 ['Callsign: AB5SS-163   (WSPR)',77,19.5,'#000',1214.5],
 ['2025-11-14 06:26:10  to  2025-12-27 21:56:10  UTC',97.7,15.25,'#000',1214.5],
 ['Time aloft: 43.6 days    Data points: 1220',121,15.25,'#000',1214.5],
 ['Altitude: 7060 - 14720 m    (float 758 h)',143.5,15.25,'#000',1214.5],
 ['Latitude range: 14.90 to 54.27',167,15.25,'#000',1214.5],
 ['Path length: 120,744 km',190,15.25,'#000',1214.5],
 ['Position source: Maidenhead 6-char grid    σ(E,N) = 2264, 1836 m',213,15.25,'#000',1214.5],
 ['Median sampling gap: 10 min    Longest gap: 40.8 h',236,15.25,'#000',1214.5],
 ['Data quality score: 0.920',261,18,'#1a5276',1214.5],
 ['precision=0.92   cadence=1.00   agreement=1.00   stability=0.99   coverage=0.72',280.5,12.55,'#555',1218.5]];

// ---------- layout and options ----------
const FONT = 'DejaVu Sans';
const panels = [
 {left:83.3,top:31.3,width:704.7,height:306.5},
 {left:83.3,top:420.3,width:704.7,height:306.5},
 {left:862.7,top:420.3,width:704.6,height:306.5},
 {left:83.3,top:808.3,width:704.7,height:306.6},
 {left:862.7,top:808.3,width:704.6,height:306.6}];
const grids = panels.map(p=>({...p,show:true,backgroundColor:'#fff',borderColor:'#000',borderWidth:1.1,outerBoundsMode:'none'}));
grids[0].backgroundColor='#d4e6f1';
grids[0].borderWidth=0;
grids.push({...panels[0],show:true,backgroundColor:'transparent',borderColor:'#000',borderWidth:1.1,z:20,outerBoundsMode:'none'});
const tickLine={lineStyle:{color:'#000',width:1.1}};
const SPLIT={show:true,lineStyle:{color:'#e4e4e4',width:1.1}};
const plainNumber=v=>String(v).replace('-','−');
function axis(gridIndex,ticks,min,max,extra){
  return Object.assign({type:'value',gridIndex,min,max,
    axisLine:{show:true,onZero:false,lineStyle:{color:'#000',width:1.1}},
    axisTick:{show:true,customValues:ticks,length:5.5,...tickLine},
    axisLabel:{customValues:ticks,fontSize:13.4,fontFamily:FONT,color:'#000',margin:10,hideOverlap:false,showMinLabel:true,showMaxLabel:true,formatter:plainNumber},
    splitLine:SPLIT,nameLocation:'middle',nameMoveOverlap:false,nameTextStyle:{fontSize:13.9,fontFamily:FONT,color:'#000'}},extra||{});
}
function yAxisOf(gridIndex,ticks,min,max,extra){
  const a=axis(gridIndex,ticks,min,max,extra);
  Object.assign(a.axisLabel,{margin:8,padding:[8,0,0,0]});
  return a;
}
function dayAxis(gridIndex,min,max,extra){
  const a=axis(gridIndex,dayTicks,min,max,extra);
  a.axisLabel={show:false,customValues:dayTicks};
  return a;
}
// Rotated date labels, centred under each tick at the bottom of the panel
function dayLabelSeries(gi,yMin){
  return {type:'scatter',name:'_dates'+gi,xAxisIndex:gi,yAxisIndex:gi,clip:false,silent:true,z:9,
    symbolSize:1,itemStyle:{color:'transparent',opacity:1},
    data:dayTicks.map((d,i)=>({value:[d,yMin],label:{formatter:dayLabels[i]}})),
    label:{show:true,position:'inside',offset:[-10,24.6],rotate:20,align:'center',verticalAlign:'middle',
      fontSize:13.4,fontFamily:FONT,color:'#000',textBorderWidth:0}};
}
const mapSplit={show:true,lineStyle:{color:'#9a9a9a',opacity:.32,width:.8,type:[2,2]}};
const xAxes=[
 axis(0,lonTicks,-180,180,{name:'Longitude (deg)',nameGap:31,splitLine:mapSplit,z:5}),
 dayAxis(1,-0.457,31.77),
 dayAxis(2,-0.15,31.85),
 dayAxis(3,-0.457,31.77,{name:'UTC date',nameGap:52}),
 axis(4,histTicks,-100,100,{name:'Wind speed (m s⁻¹)',nameGap:33})];
const yAxes=[
 yAxisOf(0,latTicks,-90,90,{name:'Latitude (deg)',nameGap:45,splitLine:mapSplit,z:5}),
 yAxisOf(1,windTicks,0,72.1,{name:'Wind speed (m s⁻¹)',nameGap:39}),
 yAxisOf(2,latTicks,-90,90,{name:'Latitude (deg)',nameGap:45}),
 yAxisOf(3,altTicks,12623,14822,{name:'Altitude (m AMSL)',nameGap:59}),
 yAxisOf(4,freqTicks,0,225.7,{name:'Frequency',nameGap:40})];
function polySeries(shapes,fill,stroke,z){
  return {type:'custom',name:'_shape',silent:true,xAxisIndex:0,yAxisIndex:0,z,clip:true,
    data:shapes.map((s,i)=>[s[0][0],s[0][1],i]),
    renderItem:(params,api)=>({type:'polygon',
      shape:{points:shapes[api.value(2)].map(p=>api.coord(p))},
      style:{fill,stroke,lineWidth:.7}})};
}
const STAR='path://M50,0L61.2,34.5L97.6,34.5L68.2,55.9L79.4,90.5L50,69.1L20.6,90.5L31.8,55.9L2.4,34.5L38.8,34.5Z';
const dot=r=>`path://M0,0M100,100M50,${50-r}A${r},${r} 0 1 1 50,${50+r}A${r},${r} 0 1 1 50,${50-r}Z`;
const meanSeries=(name,gi,vals)=>({type:'line',name,xAxisIndex:gi,yAxisIndex:gi,z:6,symbol:'none',
  data:meanDays.map((d,i)=>[d,vals[i]]),lineStyle:{color:'#c0392b',width:2},itemStyle:{color:'#c0392b'}});
const legendBase={orient:'vertical',backgroundColor:'rgba(255,255,255,.8)',borderColor:'#ccc',borderWidth:1.1,borderRadius:3,
  textStyle:{fontSize:11.1,fontFamily:FONT,color:'#000',padding:[0,0,0,3]},selectedMode:false,z:12};
const option={
 animation:false,backgroundColor:'#fff',textStyle:{fontFamily:FONT},
 title:[
  ...[['Flight Track',435.6,11],['Wind Speed vs. Time',435.6,398],['Latitude vs. Time',1215,398],['Balloon Altitude vs. Time',435.6,787],['U and V Wind Components',1215,787]]
    .map(([text,left,top])=>({text,left,top,padding:0,textAlign:'center',textStyle:{fontSize:16.7,fontWeight:'normal',fontFamily:FONT,color:'#000'}})),
  ...infoLines.map(([text,y,size,color,x])=>({text,left:x,top:y-size*.62,padding:0,textAlign:'center',textStyle:{fontSize:size,fontWeight:'normal',fontFamily:FONT,color}}))],
 grid:grids,xAxis:xAxes,yAxis:yAxes,
 legend:[
  {...legendBase,left:90,top:283.3,padding:[2,5,1,5],itemWidth:23,itemHeight:16.5,itemGap:-2.5,
   data:[{name:'Track',icon:dot(13)},{name:'Launch',icon:'circle',itemStyle:{borderWidth:1.4,borderColor:'#000'}},{name:'Last fix',icon:STAR,itemStyle:{borderWidth:1.4,borderColor:'#000'}}]},
  {...legendBase,left:89.5,top:425,padding:[4,4,3,4],itemWidth:23,itemHeight:9,itemGap:5.5,
   data:[{name:'±1σ propagated error',icon:'rect'},{name:'Wind speed',icon:dot(20)},{name:'Daily mean',icon:'path://M0,0H100V8H0Z'}]},
  {...legendBase,left:1443,top:814,padding:[5,5,4,3],itemWidth:23,itemHeight:8,itemGap:5,
   data:[{name:'U (zonal)',icon:'rect',itemStyle:{borderColor:'#000',borderWidth:1}},{name:'V (meridional)',icon:'rect',itemStyle:{borderColor:'#000',borderWidth:1}}]}],
 series:[
  polySeries(land,'#e8e8e4','#c4c8c9',1),
  polySeries(inlandWater,'#d4e6f1','#c4c8c9',1.5),
  {type:'custom',name:'_borders',silent:true,xAxisIndex:0,yAxisIndex:0,z:1.6,clip:true,
   data:borders.map((s,i)=>[s[0][0],s[0][1],i]),
   renderItem:(params,api)=>({type:'polyline',shape:{points:borders[api.value(2)].map(p=>api.coord(p))},style:{fill:null,stroke:'#dadad7',lineWidth:.7}})},
  {type:'scatter',name:'Track',xAxisIndex:0,yAxisIndex:0,z:6,data:track,symbolSize:4.8,itemStyle:{color:'#c0392b',opacity:1}},
  {type:'scatter',name:'Launch',xAxisIndex:0,yAxisIndex:0,z:7,data:launchFix,symbol:'circle',symbolSize:16.5,itemStyle:{color:'#27ae60',borderColor:'#000',borderWidth:1.4,opacity:1}},
  {type:'scatter',name:'Last fix',xAxisIndex:0,yAxisIndex:0,z:8,data:lastFix,symbol:STAR,symbolSize:20,itemStyle:{color:'#1f77b4',borderColor:'#000',borderWidth:1.4,opacity:1}},
  {type:'custom',name:'±1σ propagated error',xAxisIndex:1,yAxisIndex:1,z:3,silent:true,clip:true,
   itemStyle:{color:'#cfd6d7'},
   data:[[bandDays[0],bandUpper[0]]],
   renderItem:(params,api)=>{
     const up=bandDays.map((d,i)=>api.coord([d,bandUpper[i]]));
     const lo=bandDays.map((d,i)=>api.coord([d,bandLower[i]])).reverse();
     return {type:'polygon',shape:{points:up.concat(lo)},style:{fill:'#cfd6d7',stroke:'#cfd6d7',lineWidth:1}};
   }},
  {type:'scatter',name:'Wind speed',xAxisIndex:1,yAxisIndex:1,z:4,data:windPoints,symbolSize:4,itemStyle:{color:'#2c3e50',opacity:1}},
  meanSeries('Daily mean',1,windMean),
  {type:'scatter',name:'Latitude',xAxisIndex:2,yAxisIndex:2,z:4,data:latPoints,symbolSize:5,itemStyle:{color:'#000',opacity:1}},
  {type:'scatter',name:'Altitude',xAxisIndex:3,yAxisIndex:3,z:4,data:altPoints,symbolSize:3.8,itemStyle:{color:'#7f8c8d',opacity:1}},
  meanSeries('Daily mean altitude',3,altMean),
  {type:'bar',name:'U (zonal)',xAxisIndex:4,yAxisIndex:4,z:3,barWidth:17.6,barGap:'-100%',
   data:binCenters.map((c,i)=>[c,uCounts[i]]),itemStyle:{color:'#1f77b4',opacity:.65,borderColor:'#000',borderWidth:1.1}},
  {type:'bar',name:'V (meridional)',xAxisIndex:4,yAxisIndex:4,z:4,barWidth:17.6,barGap:'-100%',
   data:binCenters.map((c,i)=>[c,vCounts[i]]),itemStyle:{color:'#ff7f0e',opacity:.65,borderColor:'#000',borderWidth:1.1}},
  dayLabelSeries(1,0),
  dayLabelSeries(2,-90),
  dayLabelSeries(3,12623)
 ]};
const chart=echarts.init(document.getElementById('c'),null,{renderer:'canvas',width:1590,height:1189});
chart.setOption(option);
</script></body></html>
